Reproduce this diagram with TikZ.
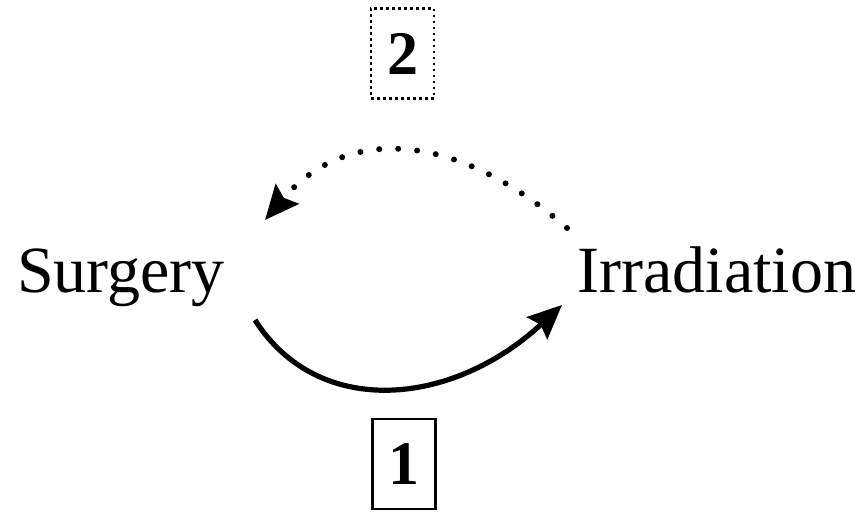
\documentclass[tikz,border=0pt]{standalone}
\usepackage{fontspec}
\setmainfont{Liberation Serif}
\usetikzlibrary{arrows.meta}
\begin{document}
\begin{tikzpicture}[x=0.5pt,y=-0.5pt,
  lab/.style={font=\fontsize{33}{40}\selectfont, inner sep=0pt, anchor=base},
  numbox/.style={font=\fontsize{31}{36}\selectfont\bfseries, minimum width=31.5pt, minimum height=45pt, inner sep=0pt, line width=1.4pt},
  conn/.style={line width=2.6pt, -{Stealth[length=17pt,width=15pt,inset=2.5pt]}},
  dotline/.style={conn, line width=3pt, line cap=round, dash pattern=on 0pt off 9.5pt}]
\useasboundingbox (0,0) rectangle (863,512);
\node[lab] (S) at (121,293) {Surgery};
\node[lab] (I) at (717,293) {Irradiation};
\node[numbox, draw, dash pattern=on 1.4pt off 1.6pt] (b2) at (402.5,53.5) {2};
\node[numbox, draw] (b1) at (404,464) {1};
\coordinate (s1) at (255,320);
\coordinate (i1) at (562,305);
\coordinate (i2) at (567,228);
\coordinate (s2) at (265,220);
\draw[conn] (s1) .. controls (318,419) and (452,407) .. (i1);
\draw[dotline] (i2) .. controls (457,132) and (347,124) .. (s2);
\end{tikzpicture}
\end{document}
